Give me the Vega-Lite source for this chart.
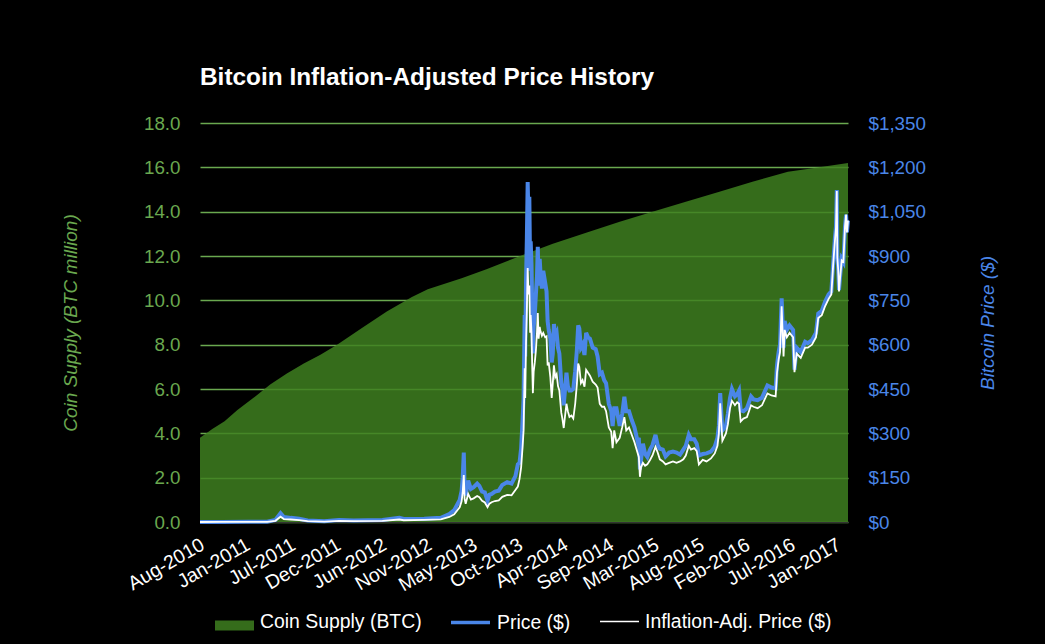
{
"$schema":"https://vega.github.io/schema/vega-lite/v6.json",
"autosize":"none",
"width":648,"height":399,
"padding":{"left":200,"top":123,"right":197,"bottom":122},
"background":"#000000",
"config":{"view":{"stroke":null},"font":"Liberation Sans"},
"title":{"text":"Bitcoin Inflation-Adjusted Price History","anchor":"start","frame":"group","color":"#ffffff","font":"Liberation Sans","fontSize":24.4,"fontWeight":"bold","offset":24},
"datasets":{
"supply":[
{"date":"2010-08-17","supply":3.8},{"date":"2010-10-01","supply":4.2},{"date":"2010-11-15","supply":4.55},{"date":"2011-01-01","supply":5.05},{"date":"2011-03-01","supply":5.6},{"date":"2011-05-01","supply":6.2},{"date":"2011-07-01","supply":6.7},{"date":"2011-09-01","supply":7.15},{"date":"2011-11-01","supply":7.55},{"date":"2012-01-01","supply":8.0},{"date":"2012-04-01","supply":8.75},{"date":"2012-07-01","supply":9.5},{"date":"2012-10-01","supply":10.15},{"date":"2012-11-28","supply":10.5},{"date":"2013-04-01","supply":11.0},{"date":"2013-07-01","supply":11.4},{"date":"2013-11-01","supply":12.0},{"date":"2014-03-01","supply":12.55},{"date":"2014-07-01","supply":13.05},{"date":"2014-11-01","supply":13.55},{"date":"2015-03-01","supply":14.0},{"date":"2015-07-01","supply":14.45},{"date":"2015-11-01","supply":14.9},{"date":"2016-03-01","supply":15.35},{"date":"2016-07-09","supply":15.8},{"date":"2016-10-01","supply":15.95},{"date":"2017-02-14","supply":16.2}
],
"prices":[
{"date":"2010-08-17","price":0.07,"adj":0.04},{"date":"2010-11-06","price":0.35,"adj":0.2},{"date":"2011-02-10","price":1,"adj":0.6},{"date":"2011-04-20","price":1.2,"adj":0.7},{"date":"2011-05-20","price":7,"adj":4},{"date":"2011-06-08","price":30,"adj":18},{"date":"2011-06-20","price":17,"adj":10},{"date":"2011-07-15","price":14,"adj":8.5},{"date":"2011-08-15","price":11,"adj":6.5},{"date":"2011-09-15","price":5,"adj":3},{"date":"2011-11-15","price":2.5,"adj":1.5},{"date":"2012-01-08","price":7,"adj":4},{"date":"2012-03-01","price":5,"adj":3},{"date":"2012-06-15","price":6.5,"adj":4},{"date":"2012-08-16","price":14,"adj":8.5},{"date":"2012-09-01","price":10,"adj":6},{"date":"2012-11-15","price":11,"adj":7},{"date":"2013-01-15","price":14,"adj":9},{"date":"2013-02-15","price":27,"adj":17},{"date":"2013-03-05","price":40,"adj":26},{"date":"2013-03-25","price":75,"adj":50},{"date":"2013-04-01","price":105,"adj":70},{"date":"2013-04-05","price":150,"adj":100},{"date":"2013-04-09","price":235,"adj":159},{"date":"2013-04-12","price":115,"adj":78},{"date":"2013-04-16","price":90,"adj":62},{"date":"2013-04-25","price":140,"adj":95},{"date":"2013-05-05","price":112,"adj":76},{"date":"2013-05-15","price":118,"adj":80},{"date":"2013-05-28","price":130,"adj":88},{"date":"2013-06-05","price":122,"adj":84},{"date":"2013-06-15","price":103,"adj":72},{"date":"2013-06-25","price":100,"adj":66},{"date":"2013-07-05","price":72,"adj":50},{"date":"2013-07-12","price":92,"adj":62},{"date":"2013-07-20","price":95,"adj":67},{"date":"2013-08-01","price":103,"adj":71},{"date":"2013-08-15","price":106,"adj":73},{"date":"2013-08-28","price":125,"adj":85},{"date":"2013-09-15","price":135,"adj":92},{"date":"2013-10-01","price":130,"adj":90},{"date":"2013-10-15","price":155,"adj":108},{"date":"2013-10-24","price":195,"adj":120},{"date":"2013-10-30","price":200,"adj":145},{"date":"2013-11-05","price":250,"adj":185},{"date":"2013-11-10","price":340,"adj":250},{"date":"2013-11-14","price":420,"adj":310},{"date":"2013-11-18","price":700,"adj":520},{"date":"2013-11-20","price":560,"adj":420},{"date":"2013-11-23","price":820,"adj":610},{"date":"2013-11-26","price":960,"adj":720},{"date":"2013-11-29","price":1150,"adj":859},{"date":"2013-12-02","price":1020,"adj":770},{"date":"2013-12-05","price":1100,"adj":800},{"date":"2013-12-08","price":850,"adj":640},{"date":"2013-12-10","price":950,"adj":700},{"date":"2013-12-13","price":870,"adj":640},{"date":"2013-12-16","price":690,"adj":510},{"date":"2013-12-18","price":570,"adj":436},{"date":"2013-12-21","price":660,"adj":510},{"date":"2013-12-25","price":700,"adj":540},{"date":"2013-12-29","price":770,"adj":580},{"date":"2014-01-02","price":830,"adj":640},{"date":"2014-01-05","price":931,"adj":707},{"date":"2014-01-08","price":800,"adj":620},{"date":"2014-01-12","price":890,"adj":660},{"date":"2014-01-15","price":840,"adj":645},{"date":"2014-01-20","price":790,"adj":630},{"date":"2014-01-25","price":850,"adj":640},{"date":"2014-02-01","price":810,"adj":625},{"date":"2014-02-06","price":780,"adj":628},{"date":"2014-02-10","price":680,"adj":530},{"date":"2014-02-14","price":650,"adj":540},{"date":"2014-02-20","price":620,"adj":490},{"date":"2014-02-25","price":540,"adj":420},{"date":"2014-03-01","price":570,"adj":470},{"date":"2014-03-05","price":670,"adj":530},{"date":"2014-03-10","price":630,"adj":490},{"date":"2014-03-15","price":640,"adj":500},{"date":"2014-03-20","price":590,"adj":460},{"date":"2014-03-25","price":570,"adj":445},{"date":"2014-04-01","price":470,"adj":370},{"date":"2014-04-05","price":450,"adj":350},{"date":"2014-04-10","price":395,"adj":318},{"date":"2014-04-14","price":440,"adj":352},{"date":"2014-04-20","price":505,"adj":400},{"date":"2014-04-25","price":460,"adj":375},{"date":"2014-05-01","price":445,"adj":355},{"date":"2014-05-08","price":445,"adj":360},{"date":"2014-05-15","price":450,"adj":350},{"date":"2014-05-22","price":510,"adj":400},{"date":"2014-05-28","price":580,"adj":465},{"date":"2014-06-02","price":665,"adj":536},{"date":"2014-06-06","price":655,"adj":525},{"date":"2014-06-12","price":590,"adj":470},{"date":"2014-06-18","price":600,"adj":480},{"date":"2014-06-25","price":565,"adj":458},{"date":"2014-07-01","price":640,"adj":515},{"date":"2014-07-08","price":625,"adj":505},{"date":"2014-07-15","price":620,"adj":495},{"date":"2014-07-25","price":590,"adj":475},{"date":"2014-08-05","price":585,"adj":465},{"date":"2014-08-12","price":560,"adj":455},{"date":"2014-08-20","price":500,"adj":400},{"date":"2014-08-28","price":505,"adj":390},{"date":"2014-09-05","price":480,"adj":390},{"date":"2014-09-12","price":470,"adj":375},{"date":"2014-09-22","price":400,"adj":320},{"date":"2014-10-01","price":375,"adj":305},{"date":"2014-10-06","price":325,"adj":250},{"date":"2014-10-12","price":385,"adj":310},{"date":"2014-10-20","price":385,"adj":270},{"date":"2014-11-01","price":325,"adj":285},{"date":"2014-11-10","price":365,"adj":320},{"date":"2014-11-18","price":424,"adj":355},{"date":"2014-11-25","price":375,"adj":310},{"date":"2014-12-05","price":375,"adj":320},{"date":"2014-12-15","price":345,"adj":295},{"date":"2014-12-25","price":320,"adj":270},{"date":"2015-01-05","price":275,"adj":235},{"date":"2015-01-10","price":285,"adj":220},{"date":"2015-01-14","price":178,"adj":153},{"date":"2015-01-18","price":210,"adj":185},{"date":"2015-01-25","price":265,"adj":200},{"date":"2015-02-02","price":230,"adj":190},{"date":"2015-02-10","price":220,"adj":195},{"date":"2015-02-20","price":245,"adj":210},{"date":"2015-03-01","price":260,"adj":225},{"date":"2015-03-12","price":295,"adj":254},{"date":"2015-03-20","price":260,"adj":235},{"date":"2015-03-28","price":248,"adj":212},{"date":"2015-04-08","price":245,"adj":205},{"date":"2015-04-18","price":222,"adj":195},{"date":"2015-05-01","price":235,"adj":200},{"date":"2015-05-15","price":238,"adj":205},{"date":"2015-05-28","price":235,"adj":200},{"date":"2015-06-10","price":228,"adj":205},{"date":"2015-06-22","price":245,"adj":212},{"date":"2015-07-01","price":258,"adj":225},{"date":"2015-07-12","price":295,"adj":258},{"date":"2015-07-20","price":280,"adj":245},{"date":"2015-08-01","price":280,"adj":250},{"date":"2015-08-10","price":265,"adj":240},{"date":"2015-08-18","price":225,"adj":195},{"date":"2015-09-01","price":230,"adj":210},{"date":"2015-09-15","price":232,"adj":205},{"date":"2015-10-01","price":238,"adj":215},{"date":"2015-10-15","price":255,"adj":232},{"date":"2015-10-25","price":285,"adj":258},{"date":"2015-10-30","price":325,"adj":300},{"date":"2015-11-04","price":436,"adj":402},{"date":"2015-11-08","price":370,"adj":335},{"date":"2015-11-12","price":310,"adj":275},{"date":"2015-11-25","price":325,"adj":300},{"date":"2015-12-02","price":365,"adj":330},{"date":"2015-12-10","price":420,"adj":385},{"date":"2015-12-17","price":450,"adj":410},{"date":"2015-12-28","price":425,"adj":395},{"date":"2016-01-05","price":432,"adj":405},{"date":"2016-01-12","price":445,"adj":400},{"date":"2016-01-18","price":378,"adj":340},{"date":"2016-01-28","price":375,"adj":350},{"date":"2016-02-10","price":385,"adj":355},{"date":"2016-02-25","price":425,"adj":395},{"date":"2016-03-05","price":415,"adj":390},{"date":"2016-03-20","price":412,"adj":385},{"date":"2016-04-05","price":420,"adj":395},{"date":"2016-04-25","price":462,"adj":435},{"date":"2016-05-10","price":455,"adj":428},{"date":"2016-05-25","price":452,"adj":425},{"date":"2016-05-30","price":530,"adj":505},{"date":"2016-06-05","price":575,"adj":550},{"date":"2016-06-10","price":600,"adj":575},{"date":"2016-06-16","price":757,"adj":730},{"date":"2016-06-20","price":660,"adj":630},{"date":"2016-06-23","price":590,"adj":560},{"date":"2016-06-27","price":680,"adj":650},{"date":"2016-07-05","price":650,"adj":625},{"date":"2016-07-15","price":665,"adj":640},{"date":"2016-07-28","price":650,"adj":625},{"date":"2016-08-02","price":515,"adj":507},{"date":"2016-08-10","price":590,"adj":570},{"date":"2016-08-25","price":575,"adj":555},{"date":"2016-09-10","price":610,"adj":590},{"date":"2016-09-20","price":605,"adj":590},{"date":"2016-10-05","price":615,"adj":600},{"date":"2016-10-20","price":640,"adj":625},{"date":"2016-10-28","price":705,"adj":690},{"date":"2016-11-10","price":715,"adj":700},{"date":"2016-11-22","price":745,"adj":730},{"date":"2016-12-05","price":770,"adj":755},{"date":"2016-12-15","price":780,"adj":770},{"date":"2016-12-22","price":880,"adj":875},{"date":"2016-12-28","price":960,"adj":950},{"date":"2017-01-01","price":1000,"adj":995},{"date":"2017-01-04","price":1123,"adj":1120},{"date":"2017-01-06","price":900,"adj":895},{"date":"2017-01-09","price":860,"adj":855},{"date":"2017-01-12","price":785,"adj":780},{"date":"2017-01-16","price":830,"adj":825},{"date":"2017-01-22","price":890,"adj":885},{"date":"2017-01-28","price":880,"adj":880},{"date":"2017-02-03","price":1000,"adj":1000},{"date":"2017-02-07","price":1040,"adj":1040},{"date":"2017-02-10","price":980,"adj":980},{"date":"2017-02-14","price":1020,"adj":1020}
]
},
"layer":[
{"data":{"name":"supply"},
 "mark":{"type":"area","opacity":0.84,"interpolate":"linear"},
 "encoding":{
  "x":{"field":"date","type":"temporal","title":null,
   "scale":{"type":"utc","domain":["2010-08-17","2017-02-14"]},
   "axis":{"values":["2010-08-17","2011-01-30","2011-07-16","2011-12-29","2012-06-13","2012-11-26","2013-05-11","2013-10-25","2014-04-09","2014-09-23","2015-03-08","2015-08-21","2016-02-04","2016-07-19","2017-01-02"],
    "labelExpr":"utcFormat(datum.value,'%b-%Y')","labelAngle":-30,"labelAlign":"right","labelBaseline":"top","labelColor":"#ffffff","labelFontSize":19.5,"labelPadding":13,"labelOffset":-2,"labelOverlap":false,"labelFlush":false,"ticks":false,"grid":false,"domainColor":"#333333"}},
  "y":{"field":"supply","type":"quantitative",
   "scale":{"domain":[0,18],"nice":false},
   "axis":{"title":"Coin Supply (BTC million)","values":[0,2,4,6,8,10,12,14,16,18],"format":".1f","labelColor":"#6aa84f","labelFontSize":18.8,"labelPadding":20,"ticks":false,"domain":false,"grid":true,"gridColor":"#6aa84f","gridWidth":1.5,"titleColor":"#6aa84f","titleFontSize":19,"titleFontStyle":"italic","titleFontWeight":"normal","titlePadding":63}},
  "color":{"datum":"Coin Supply (BTC)","scale":{"domain":["Coin Supply (BTC)"],"range":["#3f8120"]},
   "legend":{"title":null,"orient":"none","legendX":14,"legendY":478,"symbolType":"M-1,-0.05H1V0.46H-1Z","symbolSize":1521,"labelColor":"#ffffff","labelFontSize":19.4,"labelOffset":5,"labelLimit":300,"padding":0}}
 }},
{"data":{"name":"prices"},
 "mark":{"type":"line","strokeWidth":4,"interpolate":"linear"},
 "encoding":{
  "x":{"field":"date","type":"temporal"},
  "y":{"field":"price","type":"quantitative",
   "scale":{"domain":[0,1350],"nice":false},
   "axis":{"orient":"right","title":"Bitcoin Price ($)","values":[0,150,300,450,600,750,900,1050,1200,1350],"format":"$,.0f","labelColor":"#4a86e8","labelFontSize":18.8,"labelPadding":20,"ticks":false,"domain":false,"grid":false,"titleColor":"#4a86e8","titleFontSize":19,"titleFontStyle":"italic","titleFontWeight":"normal","titleAngle":270,"titlePadding":72}},
  "color":{"datum":"Price ($)","scale":{"domain":["Price ($)"],"range":["#4a86e8"]},
   "legend":{"title":null,"orient":"none","legendX":249,"legendY":478,"symbolType":"stroke","symbolSize":1521,"symbolStrokeWidth":3.5,"labelColor":"#ffffff","labelFontSize":19.4,"labelOffset":5,"labelLimit":300,"padding":0}}
 }},
{"data":{"name":"prices"},
 "mark":{"type":"line","strokeWidth":1.8,"interpolate":"linear"},
 "encoding":{
  "x":{"field":"date","type":"temporal"},
  "y":{"field":"adj","type":"quantitative","scale":{"domain":[0,1350],"nice":false},"axis":null},
  "color":{"datum":"Inflation-Adj. Price ($)","scale":{"domain":["Inflation-Adj. Price ($)"],"range":["#ffffff"]},
   "legend":{"title":null,"orient":"none","legendX":399,"legendY":478,"symbolType":"stroke","symbolSize":1521,"symbolStrokeWidth":1.5,"labelColor":"#ffffff","labelFontSize":19.4,"labelOffset":5,"labelLimit":300,"padding":0}}
 }}
],
"resolve":{"scale":{"y":"independent","color":"independent"}}
}
